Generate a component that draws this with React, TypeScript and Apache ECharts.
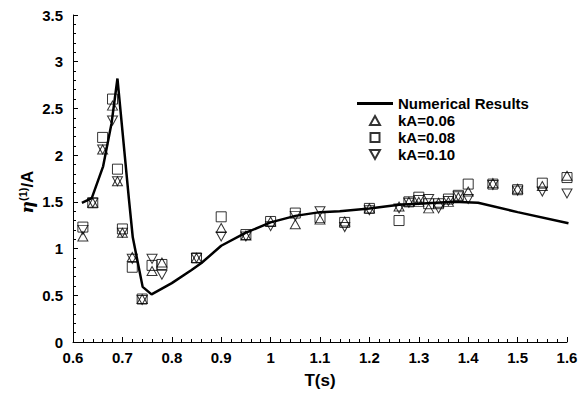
import React, { useEffect, useRef } from "react";
import * as echarts from "echarts";

// Numerical results (line)
const lineT = [0.618, 0.638, 0.661, 0.678, 0.69, 0.713, 0.721, 0.741, 0.759, 0.8, 0.84, 0.86, 0.9, 0.95, 1.0, 1.05, 1.1, 1.14, 1.2, 1.26, 1.3, 1.37, 1.42, 1.5, 1.603];
const lineEta = [1.49, 1.54, 1.88, 2.34, 2.82, 1.54, 1.12, 0.59, 0.51, 0.63, 0.77, 0.845, 1.03, 1.17, 1.28, 1.35, 1.39, 1.4, 1.43, 1.47, 1.48, 1.5, 1.49, 1.39, 1.27];

// Experimental periods
const expT = [0.62, 0.64, 0.66, 0.68, 0.69, 0.7, 0.72, 0.74, 0.76, 0.78, 0.85, 0.9, 0.95, 1.0, 1.05, 1.1, 1.15, 1.2, 1.26, 1.28, 1.3, 1.32, 1.34, 1.36, 1.38, 1.4, 1.45, 1.5, 1.55, 1.6];
const kA006 = [1.13, 1.49, 2.06, 2.53, 1.72, 1.17, 0.91, 0.46, 0.76, 0.85, 0.9, 1.22, 1.14, 1.29, 1.26, 1.31, 1.29, 1.43, 1.45, 1.5, 1.5, 1.43, 1.49, 1.5, 1.55, 1.61, 1.7, 1.64, 1.67, 1.78];
const kA008 = [1.23, 1.49, 2.19, 2.6, 1.85, 1.21, 0.8, 0.46, 0.82, 0.83, 0.9, 1.34, 1.15, 1.29, 1.38, 1.33, 1.28, 1.43, 1.3, 1.5, 1.55, 1.48, 1.48, 1.53, 1.57, 1.69, 1.69, 1.63, 1.7, 1.76];
const kA010 = [1.2, 1.49, 2.06, 2.37, 1.72, 1.17, 0.89, 0.45, 0.89, 0.72, 0.9, 1.13, 1.13, 1.24, 1.35, 1.4, 1.23, 1.41, 1.43, 1.49, 1.52, 1.53, 1.43, 1.51, 1.56, 1.53, 1.68, 1.62, 1.61, 1.59];

const seriesNames = ["Numerical Results", "kA=0.06", "kA=0.08", "kA=0.10"];

const FONT = "'Liberation Sans', Arial, sans-serif";

const ICON_LINE = "path://M0,0H36V3H0Z";
const ICON_UP = "path://M5,0L10,9L0,9Z";
const ICON_SQ = "path://M0,0H9V9H0Z";
const ICON_DOWN = "path://M0,0L10,0L5,9Z";

export default function App() {
  const ref = useRef<HTMLDivElement>(null);
  useEffect(() => {
    if (!ref.current) return;
    const chart = echarts.init(ref.current, null, { renderer: "svg" });
    const zip = (xs: number[], ys: number[]) => xs.map((x, i) => [x, ys[i]]);
    const hollow = { color: "rgba(0,0,0,0)", borderColor: "#000", borderWidth: 1 };
    chart.setOption({
      animation: false,
      backgroundColor: "#fff",
      grid: { left: 73, right: 20, top: 15, bottom: 52 },
      graphic: [
        {
          type: "text",
          x: 27,
          y: 192,
          rotation: Math.PI / 2,
          style: {
            text: "{e|η}{s|(1)}{a|/A}",
            align: "center",
            verticalAlign: "middle",
            fill: "#000",
            rich: {
              e: { fontFamily: "'DejaVu Serif', serif", fontStyle: "italic", fontWeight: "bold", fontSize: 17, fill: "#000", lineHeight: 20 },
              s: { fontFamily: FONT, fontWeight: "bold", fontSize: 11, fill: "#000", verticalAlign: "top", lineHeight: 20 },
              a: { fontFamily: FONT, fontWeight: "bold", fontSize: 17, fill: "#000", lineHeight: 20 },
            },
          },
        },
      ],
      legend: {
        data: [
          { name: seriesNames[0], icon: ICON_LINE, itemStyle: { color: "#000", borderWidth: 0 } },
          { name: seriesNames[1], icon: ICON_UP, symbolRotate: 0 },
          { name: seriesNames[2], icon: ICON_SQ },
          { name: seriesNames[3], icon: ICON_DOWN, symbolRotate: 0 },
        ],
        orient: "vertical",
        left: 352,
        top: 91,
        itemWidth: 36,
        itemHeight: 9,
        itemGap: 2,
        symbolKeepAspect: true,
        textStyle: { fontFamily: FONT, fontWeight: "bold", fontSize: 15, color: "#000", lineHeight: 14 },
      },
      xAxis: {
        type: "value",
        min: 0.6,
        max: 1.6,
        interval: 0.1,
        name: "T(s)",
        nameLocation: "middle",
        nameGap: 30,
        nameTextStyle: { fontFamily: FONT, fontWeight: "bold", fontSize: 17, color: "#000" },
        axisLine: { show: true, onZero: false, lineStyle: { color: "#000", width: 1 } },
        axisTick: { show: true, inside: true, length: 5, lineStyle: { color: "#000" } },
        minorTick: { show: true, splitNumber: 5, length: 3, lineStyle: { color: "#000" } },
        splitLine: { show: false },
        axisLabel: { fontFamily: FONT, fontWeight: "bold", fontSize: 15, color: "#000", margin: 8 },
      },
      yAxis: {
        type: "value",
        min: 0,
        max: 3.5,
        interval: 0.5,
        axisLine: { show: true, onZero: false, lineStyle: { color: "#000", width: 1 } },
        axisTick: { show: true, inside: true, length: 5, lineStyle: { color: "#000" } },
        minorTick: { show: true, splitNumber: 5, length: 3, lineStyle: { color: "#000" } },
        splitLine: { show: false },
        axisLabel: { fontFamily: FONT, fontWeight: "bold", fontSize: 15, color: "#000", margin: 10 },
      },
      series: [
        {
          name: seriesNames[0],
          type: "line",
          data: zip(lineT, lineEta),
          showSymbol: false,
          symbol: "none",
          lineStyle: { color: "#000", width: 2.5 },
          itemStyle: { color: "#000" },
          z: 2,
        },
        {
          name: seriesNames[1],
          type: "scatter",
          data: zip(expT, kA006),
          symbol: "triangle",
          symbolSize: [10, 9],
          itemStyle: hollow,
          z: 3,
        },
        {
          name: seriesNames[2],
          type: "scatter",
          data: zip(expT, kA008),
          symbol: "rect",
          symbolSize: 10,
          itemStyle: hollow,
          z: 3,
        },
        {
          name: seriesNames[3],
          type: "scatter",
          data: zip(expT, kA010),
          symbol: "triangle",
          symbolRotate: 180,
          symbolSize: [10, 9],
          itemStyle: hollow,
          z: 3,
        },
      ],
    });
    return () => chart.dispose();
  }, []);
  return <div ref={ref} style={{ width: 587, height: 394, position: "absolute", left: 0, top: 0 }} />;
}
